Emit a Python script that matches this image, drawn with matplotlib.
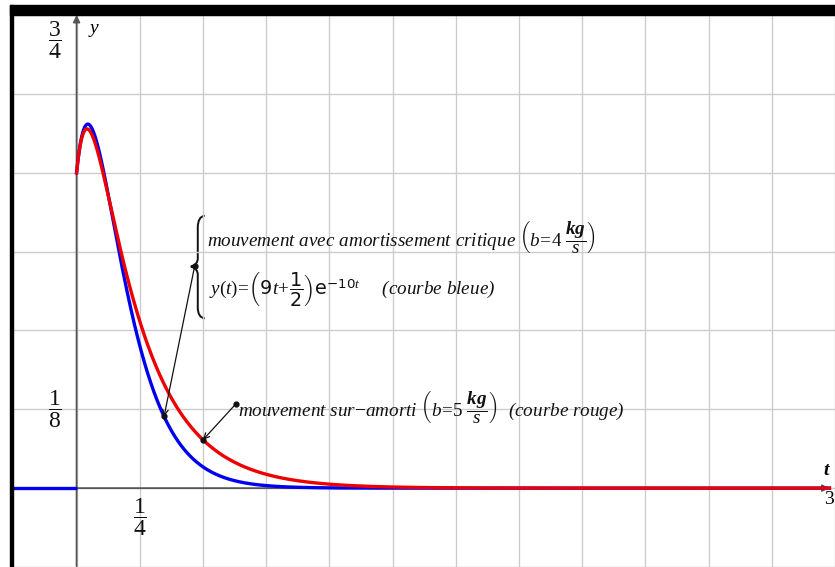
import numpy as np
import matplotlib.pyplot as plt
from matplotlib.patches import Rectangle, PathPatch
from matplotlib.path import Path

plt.rcParams['mathtext.fontset'] = 'custom'
plt.rcParams['mathtext.rm'] = 'Liberation Serif'
plt.rcParams['mathtext.it'] = 'Liberation Serif:italic'
plt.rcParams['mathtext.bf'] = 'Liberation Serif:bold:italic'
plt.rcParams['mathtext.sf'] = 'DejaVu Sans'

# ressort : m = 0.2 kg, k = 20 N/m, y(0) = 1/2, y'(0) = 4
m = 0.2
k = 20.0
y0 = 0.5
v0 = 4.0
b_crit = 4.0   # amortissement critique (courbe bleue)
b_over = 5.0   # sur-amorti (courbe rouge)

# fenetre du graphique
t_min, t_max = -0.2515, 2.978
y_min, y_max = -0.1234, 0.75
t_grid = np.arange(0, 3.01, 0.25)
y_grid = np.arange(-0.125, 0.76, 0.125)

# points marques par les fleches
t_mark_blue = 0.346
t_mark_red = 0.5


def y_critique(t):
    # y(t) = (9t + 1/2) e^{-10t}
    a = b_crit / (2 * m)
    return ((v0 + a * y0) * t + y0) * np.exp(-a * t)


def y_sur_amorti(t):
    a = b_over / (2 * m)
    w = np.sqrt(a ** 2 - k / m)
    r1, r2 = -a + w, -a - w
    B = (v0 - r1 * y0) / (r2 - r1)
    A = y0 - B
    return A * np.exp(r1 * t) + B * np.exp(r2 * t)


W, H = 835, 567
fig = plt.figure(figsize=(W / 100, H / 100), dpi=100)
ax = fig.add_axes([13 / W, 0, (W - 13) / W, (H - 15) / H])
ax.set_xlim(t_min, t_max)
ax.set_ylim(y_min, y_max)
for s in ax.spines.values():
    s.set_visible(False)
ax.set_xticks(t_grid)
ax.set_yticks(y_grid)
ax.tick_params(length=0, labelbottom=False, labelleft=False)
ax.grid(True, color='#cccccc', lw=1.0)

# axes avec fleches
ax.annotate('', xy=(t_max, 0), xytext=(t_min, 0),
            arrowprops=dict(arrowstyle='-|>', color='#555555', lw=1.3,
                            mutation_scale=10, shrinkA=0, shrinkB=0))
ax.annotate('', xy=(0, y_max), xytext=(0, y_min),
            arrowprops=dict(arrowstyle='-|>', color='#555555', lw=1.3,
                            mutation_scale=10, shrinkA=0, shrinkB=0))

# courbes
t_neg = np.linspace(t_min, 0, 10)
t_pos = np.linspace(0, t_max, 1500)
ax.plot(t_neg, np.zeros_like(t_neg), color='#0000ee', lw=2.4,
        solid_capstyle='butt', zorder=4)
ax.plot(t_pos, y_critique(t_pos), color='#0000ee', lw=2.4, zorder=4)
ax.plot(t_pos, y_sur_amorti(t_pos), color='#ee0000', lw=2.4, zorder=5)

# etiquettes des axes
frac_kw = dict(fontsize=17, ha='center', va='center', color='#111111')
ax.text(-0.086, 0.71, r'$\mathrm{\dfrac{3}{4}}$', **frac_kw)
ax.text(-0.086, 0.125, r'$\mathrm{\dfrac{1}{8}}$', **frac_kw)
ax.text(0.25, -0.046, r'$\mathrm{\dfrac{1}{4}}$', **frac_kw)
ax.text(0.07, 0.728, 'y', fontsize=14, style='italic', family='Liberation Serif',
        ha='center', va='center')
ax.text(2.965, 0.028, 't', fontsize=14, style='italic', family='Liberation Serif',
        fontweight='bold', ha='center', va='center')
ax.text(2.955, -0.018, '3', fontsize=14, family='Liberation Serif',
        ha='left', va='center', clip_on=False)


def px(x, y):
    return ((x - 77) / 254.5, (489 - y) / 632)


txt_kw = dict(fontsize=13.8, family='Liberation Serif', style='italic',
              color='#111111', va='center', zorder=6)
ax.text(*px(208, 237),
        r'mouvement avec amortissement critique $\left(b\!=\!4\ \dfrac{\mathbf{kg}}{s}\right)$',
        **txt_kw)
ax.text(*px(210, 290),
        r'$y(t)\!=\!\left(\mathsf{9}t\!+\!\dfrac{\mathsf{1}}{\mathsf{2}}\right)\mathsf{e}^{\mathsf{-10}t}$'
        r'$\quad\ \ $(courbe bleue)',
        **txt_kw)
ax.text(*px(240, 408),
        r'mouvement sur$-$amorti $\left(b\!=\!5\ \dfrac{\mathbf{kg}}{s}\right)$  (courbe rouge)',
        **txt_kw)

# accolade
verts = [px(206, 216), px(199, 217), px(199, 228),
         px(199, 259), px(199, 265), px(192, 267),
         px(199, 269), px(199, 275),
         px(199, 308), px(199, 318), px(206, 319)]
codes = [Path.MOVETO, Path.CURVE3, Path.CURVE3,
         Path.LINETO, Path.CURVE3, Path.CURVE3,
         Path.CURVE3, Path.CURVE3,
         Path.LINETO, Path.CURVE3, Path.CURVE3]
ax.add_patch(PathPatch(Path(verts, codes), fill=False, lw=1.4, color='#111111'))

# fleches vers les courbes
for start, t_m, f in [(px(196, 266), t_mark_blue, y_critique),
                      (px(237, 405), t_mark_red, y_sur_amorti)]:
    end = (t_m, f(t_m))
    ax.annotate('', xy=end, xytext=start,
                arrowprops=dict(arrowstyle='->', color='#111111', lw=0.9,
                                shrinkA=0, shrinkB=0, mutation_scale=10),
                zorder=6)
    ax.plot(*start, 'o', color='#111111', ms=3.5, zorder=6)
    ax.plot(*end, 'o', color='#111111', ms=3.5, zorder=6)

# cadre noir
fig.patches.append(Rectangle((10 / W, 0), 3 / W, (H - 5) / H,
                             transform=fig.transFigure, color='black'))
fig.patches.append(Rectangle((10 / W, 1 - 15 / H), (W - 10) / W, 10 / H,
                             transform=fig.transFigure, color='black'))

fig.savefig('out.png', dpi=100)
